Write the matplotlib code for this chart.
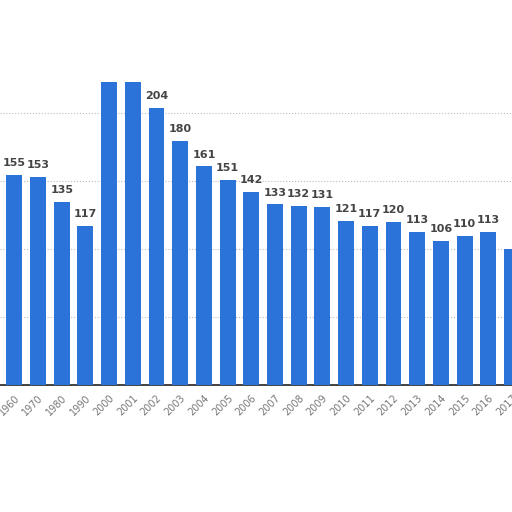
import matplotlib
matplotlib.use("Agg")
import matplotlib.pyplot as plt

years = ['1960', '1970', '1980', '1990', '2000', '2001', '2002', '2003', '2004', '2005', '2006',
         '2007', '2008', '2009', '2010', '2011', '2012', '2013', '2014', '2015', '2016', '2017']
values = [155, 153, 135, 117, 223, 223, 204, 180, 161, 151, 142,
          133, 132, 131, 121, 117, 120, 113, 106, 110, 113, 100]
# labels hidden in the reference for these bars
hidden = {'2000', '2001', '2017'}

fig = plt.figure(figsize=(5.12, 5.12), dpi=100)
ax = fig.add_axes([0, 127 / 512, 1, 353 / 512])

x = list(range(len(years)))
ax.bar(x, values, width=0.67, color='#2b73d8', zorder=3)

for i, v in enumerate(values):
    if years[i] in hidden:
        continue
    ax.text(i, v + 5, str(v), ha='center', va='bottom', fontsize=8,
            fontweight='bold', color='#444444', zorder=4)

ax.set_xlim(-14.5 / 24, (512 - 14.5) / 24)
ax.set_ylim(0, 260)
ax.set_yticks([50, 100, 150, 200])
ax.yaxis.grid(True, linestyle=':', color='#bbbbbb', linewidth=0.8, zorder=0)
ax.tick_params(axis='y', left=False, labelleft=False)
ax.set_xticks(x)
ax.set_xticklabels(years, rotation=45, ha='right', rotation_mode='anchor',
                   fontsize=7, color='#777777')
ax.tick_params(axis='x', length=0, pad=6)
for s in ['top', 'left', 'right']:
    ax.spines[s].set_visible(False)
ax.spines['bottom'].set_color('#222222')
ax.spines['bottom'].set_linewidth(1.2)

fig.savefig('out.png', dpi=100)
